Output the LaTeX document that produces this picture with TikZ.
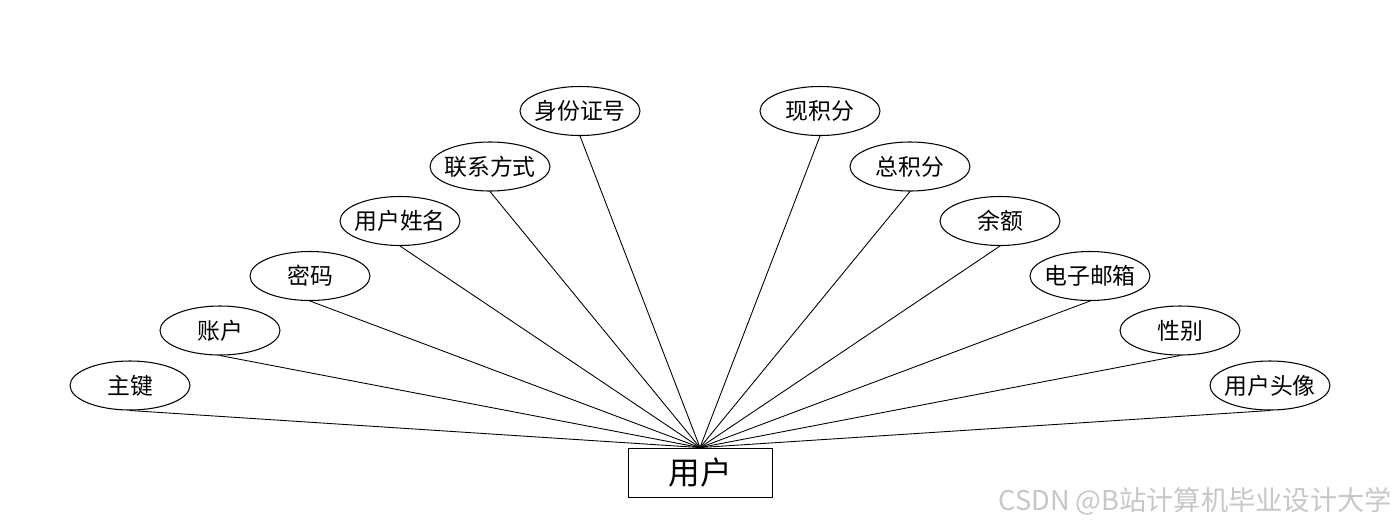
\documentclass[tikz,border=0pt]{standalone}
\usepackage{fontspec}
\setmainfont{Noto Sans CJK SC}
\usetikzlibrary{shapes}

\begin{document}
\begin{tikzpicture}[x=0.02cm,y=-0.02cm,
        attr/.style={ellipse,draw,line width=0.6pt,minimum width=2.4cm,minimum height=0.98cm,inner xsep=-2.2pt,inner ysep=0pt,font=\fontsize{13}{15}\selectfont},
        entity/.style={rectangle,draw,line width=0.5pt,minimum width=2.88cm,minimum height=0.98cm,inner sep=0pt,font=\fontsize{18}{21}\selectfont},
        link/.style={line width=0.5pt}]
        \useasboundingbox (0,0) rectangle (1400,528);
        \node[entity] (user) at (700,472.5) {用户};
        % left side
        \node[attr] (key) at (130,385.5) {主键};
        \node[attr] (account) at (220,330.5) {账户};
        \node[attr] (pwd) at (310,276) {密码};
        \node[attr] (name) at (400,221) {用户姓名};
        \node[attr] (contact) at (490,166.5) {联系方式};
        \node[attr] (idno) at (580,111) {身份证号};
        % right side
        \node[attr] (curpts) at (820,111) {现积分};
        \node[attr] (totpts) at (910,166.5) {总积分};
        \node[attr] (balance) at (1000,221) {余额};
        \node[attr] (email) at (1090,276) {电子邮箱};
        \node[attr] (gender) at (1180,330.5) {性别};
        \node[attr] (avatar) at (1270,385.5) {用户头像};
        \draw[link] (key.south) -- (user.north);
        \draw[link] (account.south) -- (user.north);
        \draw[link] (pwd.south) -- (user.north);
        \draw[link] (name.south) -- (user.north);
        \draw[link] (contact.south) -- (user.north);
        \draw[link] (idno.south) -- (user.north);
        \draw[link] (curpts.south) -- (user.north);
        \draw[link] (totpts.south) -- (user.north);
        \draw[link] (balance.south) -- (user.north);
        \draw[link] (email.south) -- (user.north);
        \draw[link] (gender.south) -- (user.north);
        \draw[link] (avatar.south) -- (user.north);
        \node[anchor=east,text=black!22,font=\fontsize{15.5}{18}\selectfont] (mark) at (1398,501) {CSDN @B站计算机毕业设计大学};
    \end{tikzpicture}
\end{document}
